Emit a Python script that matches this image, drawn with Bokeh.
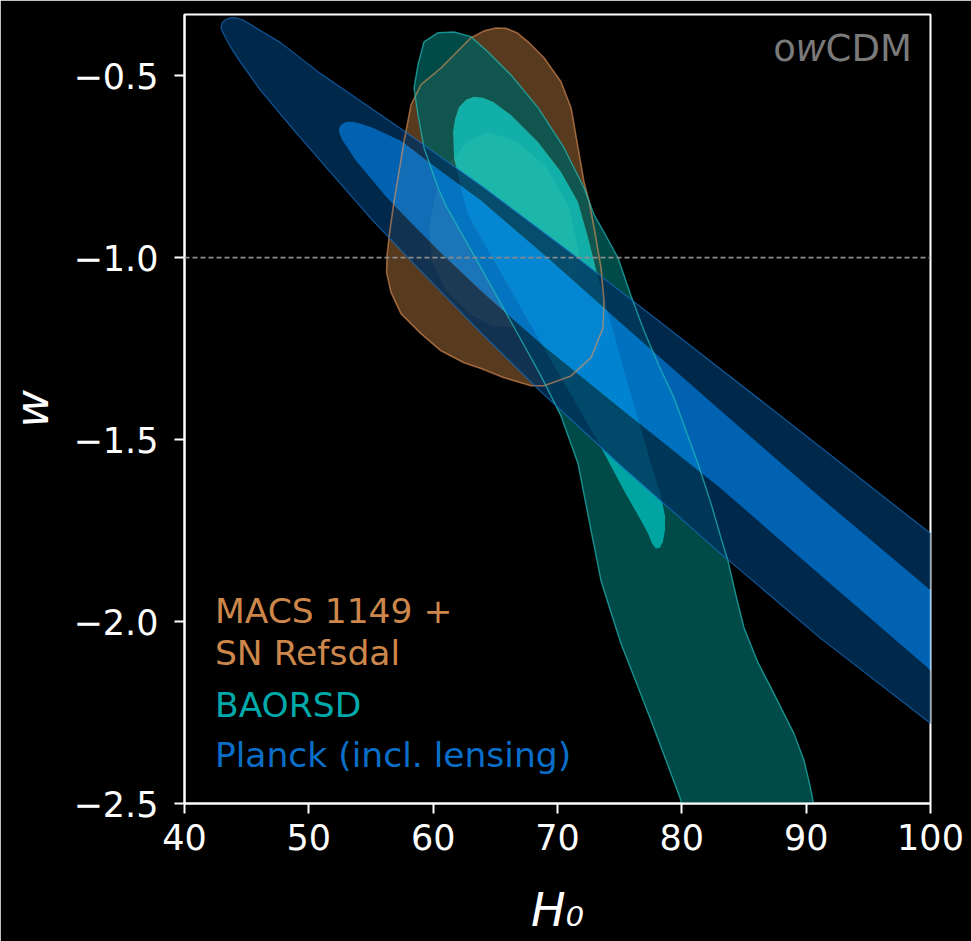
from bokeh.plotting import figure
from bokeh.models import ColumnDataSource, Span, Label, FixedTicker, CustomJSTickFormatter
from bokeh.embed import file_html
from bokeh.resources import INLINE

# ---------------- data (H0, w) ----------------
x_ticks = [40, 50, 60, 70, 80, 90, 100]
y_ticks = [-2.5, -2.0, -1.5, -1.0, -0.5]

planck_outer_h0 = [42.94, 43.02, 43.26, 43.66, 44.14, 44.71, 45.35, 46.31, 47.76, 50.74, 57.41, 64.09, 70.85,
                   78.57, 88.78, 100.04, 105.67,
                   105.67, 100.04, 91.19, 83.15, 75.11, 68.67, 63.85, 58.22, 55.00, 51.78, 48.57, 46.15, 44.54,
                   43.90, 43.42, 43.10]
planck_outer_w = [-0.369, -0.355, -0.347, -0.341, -0.341, -0.347, -0.360, -0.380, -0.410, -0.489, -0.646, -0.808,
                  -0.981, -1.185, -1.457, -1.759, -1.907,
                  -2.443, -2.281, -2.047, -1.814, -1.572, -1.369, -1.207, -1.009, -0.893, -0.767, -0.641, -0.542,
                  -0.465, -0.432, -0.404, -0.382]

planck_inner_h0 = [52.43, 52.43, 52.67, 53.07, 53.55, 54.20, 55.16, 56.21, 57.41, 60.07, 63.85, 69.48, 75.35, 83.15,
                   91.19, 100.04, 105.67,
                   105.67, 100.04, 91.19, 83.15, 75.11, 68.67, 63.85, 60.63, 58.22, 56.21, 54.60, 53.79, 53.15, 52.67]
planck_inner_w = [-0.657, -0.643, -0.632, -0.627, -0.627, -0.632, -0.643, -0.660, -0.679, -0.748, -0.844, -1.009,
                  -1.187, -1.421, -1.660, -1.915, -2.080,
                  -2.300, -2.135, -1.874, -1.635, -1.415, -1.237, -1.091, -0.987, -0.904, -0.833, -0.767, -0.734,
                  -0.701, -0.676]

baorsd_outer_h0 = [60.39, 61.68, 63.04, 64.41, 66.26, 68.43, 70.52, 72.13, 72.94, 73.90, 74.87, 75.91, 76.96, 78.16,
                   79.37, 81.30, 82.35, 83.15, 83.71, 84.36, 85.00, 86.13, 87.41, 89.02, 89.83, 90.31, 90.55, 90.79,
                   80.26, 79.93, 78.73, 77.52, 76.30, 75.11, 74.30, 73.50, 72.70, 71.65, 70.28, 68.67, 66.66, 63.85,
                   61.03, 60.39, 59.26, 58.78, 58.46, 58.78, 59.26]
baorsd_outer_w = [-0.382, -0.380, -0.393, -0.435, -0.498, -0.588, -0.698, -0.808, -0.882, -0.940, -1.001, -1.105,
                  -1.201, -1.297, -1.385, -1.566, -1.676, -1.770, -1.833, -1.929, -2.017, -2.113, -2.198, -2.308,
                  -2.382, -2.451, -2.492, -2.602,
                  -2.602, -2.492, -2.382, -2.272, -2.165, -2.061, -1.975, -1.888, -1.750, -1.566, -1.435, -1.325,
                  -1.201, -1.028, -0.858, -0.808, -0.698, -0.608, -0.534, -0.470, -0.407]

baorsd_inner_h0 = [62.64, 63.28, 64.01, 64.81, 66.26, 68.43, 70.28, 71.65, 72.53, 73.26, 74.30, 75.35, 76.48, 77.52,
                   78.33, 78.65, 78.65, 78.49, 78.24, 77.92, 77.60, 77.28, 76.72, 75.35, 73.50, 70.85, 68.11, 65.46,
                   62.80, 62.24, 61.68, 61.60, 61.76, 62.08]
baorsd_inner_w = [-0.566, -0.558, -0.561, -0.572, -0.608, -0.682, -0.764, -0.847, -0.954, -1.055, -1.179, -1.311,
                  -1.443, -1.566, -1.654, -1.709, -1.750, -1.781, -1.797, -1.800, -1.786, -1.759, -1.723, -1.641,
                  -1.522, -1.363, -1.201, -1.042, -0.882, -0.808, -0.726, -0.654, -0.619, -0.586]

macs_outer_h0 = [64.09, 65.05, 65.86, 66.74, 67.63, 68.91, 70.28, 71.09, 71.65, 72.13, 72.53, 72.94, 73.50, 73.74,
                 73.66, 72.70, 71.09, 68.91, 67.87, 65.70, 63.85, 62.48, 60.63, 59.02, 57.41, 56.60, 56.25, 56.30,
                 56.50, 56.85, 57.65, 58.22, 59.02, 60.63, 63.04]
macs_outer_w = [-0.377, -0.369, -0.370, -0.382, -0.407, -0.451, -0.517, -0.588, -0.698, -0.792, -0.844, -0.918,
                -1.028, -1.119, -1.193, -1.275, -1.325, -1.352, -1.352, -1.330, -1.305, -1.289, -1.256, -1.209,
                -1.154, -1.095, -1.040, -0.990, -0.930, -0.847, -0.682, -0.580, -0.525, -0.479, -0.396]

macs_inner_h0 = [64.41, 66.66, 69.08, 70.93, 71.73, 71.49, 69.88, 67.07, 64.65, 62.88, 61.03, 59.83, 59.67, 60.23,
                 61.43, 62.80]
macs_inner_w = [-0.654, -0.679, -0.748, -0.858, -0.981, -1.091, -1.160, -1.193, -1.187, -1.154, -1.091, -1.009,
                -0.913, -0.816, -0.734, -0.679]

labels = ["MACS 1149 +", "SN Refsdal", "BAORSD", "Planck (incl. lensing)"]

# ---------------- figure ----------------
p = figure(width=971, height=941, x_range=(40, 100), y_range=(-2.5, -0.332),
           output_backend="svg", toolbar_location=None,
           min_border_left=184, min_border_right=41, min_border_top=14, min_border_bottom=138)
p.background_fill_color = "black"
p.border_fill_color = "black"
p.outline_line_color = "white"
p.outline_line_width = 2
p.grid.visible = False


def ring(outer_x, outer_y, inner_x, inner_y):
    return dict(xs=[[[list(outer_x), list(inner_x)[::-1]]]],
                ys=[[[list(outer_y), list(inner_y)[::-1]]]])


# MACS 1149 + SN Refsdal
p.multi_polygons(source=ColumnDataSource(ring(macs_outer_h0, macs_outer_w, macs_inner_h0, macs_inner_w)),
                 xs="xs", ys="ys", fill_color="#583a1e", fill_alpha=1.0, line_color=None)
p.patch(macs_inner_h0, macs_inner_w, fill_color="#8a5a2d", fill_alpha=1.0, line_color=None)

# BAORSD
p.multi_polygons(source=ColumnDataSource(ring(baorsd_outer_h0, baorsd_outer_w, baorsd_inner_h0, baorsd_inner_w)),
                 xs="xs", ys="ys", fill_color="#005e5a", fill_alpha=0.8, line_color=None)
p.patch(baorsd_inner_h0, baorsd_inner_w, fill_color="#00cdca", fill_alpha=0.8, line_color=None)

# Planck
p.multi_polygons(source=ColumnDataSource(ring(planck_outer_h0, planck_outer_w, planck_inner_h0, planck_inner_w)),
                 xs="xs", ys="ys", fill_color="#00325e", fill_alpha=0.8, line_color=None)
p.patch(planck_inner_h0, planck_inner_w, fill_color="#007adc", fill_alpha=0.8, line_color=None)

# outlines
p.patch(macs_outer_h0, macs_outer_w, fill_color=None, line_color="#e5955a", line_alpha=0.6, line_width=1.6,
        line_join="round")
p.patch(baorsd_outer_h0, baorsd_outer_w, fill_color=None, line_color="#22bcbc", line_alpha=0.7, line_width=1.4,
        line_join="round")
p.patch(planck_outer_h0, planck_outer_w, fill_color=None, line_color="#1670c4", line_alpha=0.7, line_width=1.2,
        line_join="round")

# w = -1 reference
p.add_layout(Span(location=-1.0, dimension="width", line_color="#8c8c8c", line_width=1.6, line_dash="5 3"))

# axes
for ax in (p.xaxis[0], p.yaxis[0]):
    ax.axis_line_color = "white"
    ax.axis_line_width = 2
    ax.major_tick_line_color = "white"
    ax.major_tick_line_width = 2
    ax.major_tick_out = 10
    ax.major_tick_in = 0
    ax.minor_tick_line_color = None
    ax.major_label_text_color = "white"
    ax.major_label_text_font = "DejaVu Sans"
    ax.major_label_text_font_size = "35px"
    ax.axis_label_text_color = "white"
    ax.axis_label_text_font = "DejaVu Sans"
    ax.axis_label_text_font_style = "italic"
    ax.axis_label_text_font_size = "46px"

p.xaxis.ticker = FixedTicker(ticks=x_ticks)
p.yaxis.ticker = FixedTicker(ticks=y_ticks)
p.yaxis.formatter = CustomJSTickFormatter(code="return tick.toFixed(1).replace('-', '\u2212');")
p.xaxis.major_label_standoff = 10
p.yaxis.major_label_standoff = 16
p.xaxis.axis_label = "H\u2080"
p.yaxis.axis_label = "w"
p.xaxis.axis_label_standoff = 30
p.yaxis.axis_label_standoff = 12

# in-plot legend texts
label_colors = ["#cd874b", "#cd874b", "#00aaaa", "#0a6ec8"]
label_x = [42.45, 42.45, 42.45, 42.45]
label_y = [-1.972, -2.087, -2.229, -2.366]
for t, c, lx, ly in zip(labels, label_colors, label_x, label_y):
    p.add_layout(Label(x=lx, y=ly, text=t, text_color=c, text_font="DejaVu Sans",
                       text_font_size="34.5px", text_baseline="alphabetic", text_align="left"))

# model name "owCDM" (w in italics)
for txt, off, style in (("CDM", 0, "normal"), ("w", -86, "italic"), ("o", -116, "normal")):
    p.add_layout(Label(x=98.5, y=-0.426, x_offset=off, text=txt, text_color="#7a7a7a", text_font="DejaVu Sans",
                       text_font_style=style, text_font_size="37px", text_baseline="alphabetic",
                       text_align="right"))

open("out.html", "w").write(file_html(p, INLINE))
